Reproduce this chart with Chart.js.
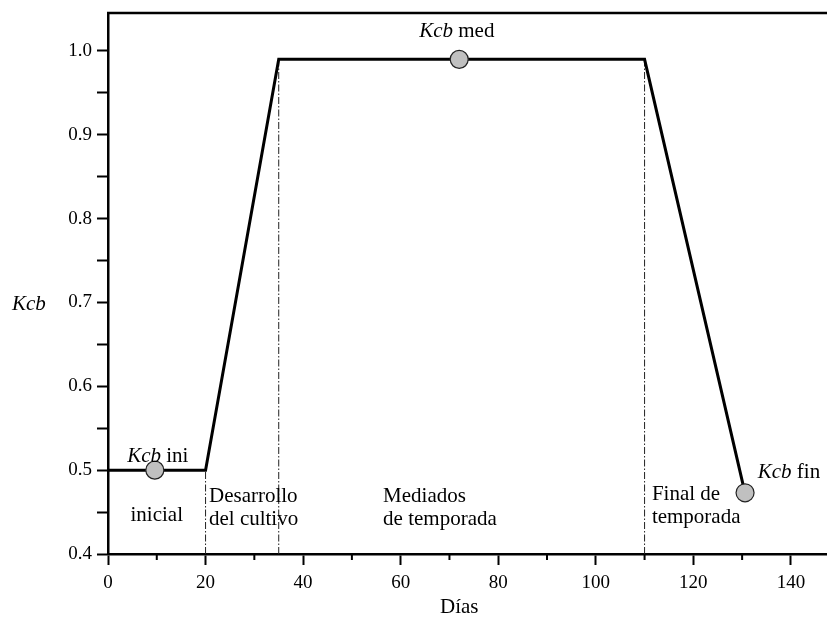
<!DOCTYPE html>
<html>
<head>
<meta charset="utf-8">
<script src="https://cdn.jsdelivr.net/npm/chart.js@4.4.1/dist/chart.umd.min.js"></script>
<style>
 html, body { margin: 0; padding: 0; background: #fff; }
 canvas { display: block; }
</style>
</head>
<body>
<canvas id="kcbChart" width="827" height="617"></canvas>
<script>
// Kcb curve vertices (days, Kcb)
var curveDays = [0, 20, 35, 110, 130.5];
var curveKcb = [0.5, 0.5, 0.99, 0.99, 0.475];
// marked Kcb values
var markDays = [9.6, 72, 130.6];
var markKcb = [0.5, 0.99, 0.473];
// stage boundaries (dash-dot lines) and where they stop
var boundDays = [20, 35, 110];
var boundTop = [0.5, 0.99, 0.99];
var xTickLabels = [0, 20, 40, 60, 80, 100, 120, 140];
var yTickLabels = [0.4, 0.5, 0.6, 0.7, 0.8, 0.9, 1.0];

var serif = '"Liberation Serif", "DejaVu Serif", serif';
var FS = 21;

// text notes: [text, italic] parts per line, anchored at (day, Kcb) baseline
var notes = [
 { lines: [[['Kcb', 1], [' ini', 0]]], x: 10.2, y: 0.5097, align: 'center' },
 { lines: [[['inicial', 0]]], x: 10.0, y: 0.4394, align: 'center' },
 { lines: [[['Desarrollo', 0]], [['del cultivo', 0]]], x: 20.7, y: 0.462, align: 'left' },
 { lines: [[['Mediados', 0]], [['de temporada', 0]]], x: 56.4, y: 0.462, align: 'left' },
 { lines: [[['Final de', 0]], [['temporada', 0]]], x: 111.5, y: 0.4644, align: 'left' },
 { lines: [[['Kcb', 1], [' fin', 0]]], x: 133.2, y: 0.4907, align: 'left' },
 { lines: [[['Kcb', 1], [' med', 0]]], x: 71.5, y: 1.0167, align: 'center' }
];

function pts(xs, ys) {
 var out = [];
 for (var i = 0; i < xs.length; i++) out.push({ x: xs[i], y: ys[i] });
 return out;
}

function drawParts(ctx, parts, x, y, align) {
 var w = 0;
 parts.forEach(function (p) {
 ctx.font = (p[1] ? 'italic ' : '') + FS + 'px ' + serif;
 w += ctx.measureText(p[0]).width;
 });
 var cx = align === 'center' ? x - w / 2 : x;
 parts.forEach(function (p) {
 ctx.font = (p[1] ? 'italic ' : '') + FS + 'px ' + serif;
 ctx.fillText(p[0], cx, y);
 cx += ctx.measureText(p[0]).width;
 });
}

// drop the label overhang padding chart.js adds, so the plot box is exact
function noPad(s) {
 s.paddingTop = 0; s.paddingBottom = 0; s.paddingLeft = 0; s.paddingRight = 0;
}

var extras = {
 id: 'extras',
 afterDraw: function (chart) {
 var ctx = chart.ctx, xs = chart.scales.x, ys = chart.scales.y, a = chart.chartArea;
 ctx.save();
 // top frame line
 ctx.strokeStyle = '#000';
 ctx.lineWidth = 2.5;
 ctx.beginPath();
 ctx.moveTo(a.left - 1, a.top);
 ctx.lineTo(a.right, a.top);
 ctx.stroke();
 // short minor ticks on the x axis
 ctx.lineWidth = 2;
 xs.ticks.forEach(function (t) {
 if (t.value % 20 !== 0) {
 var px = xs.getPixelForValue(t.value);
 ctx.beginPath();
 ctx.moveTo(px, a.bottom);
 ctx.lineTo(px, a.bottom + 6);
 ctx.stroke();
 }
 });
 ctx.fillStyle = '#000';
 ctx.textBaseline = 'alphabetic';
 ctx.textAlign = 'left';
 notes.forEach(function (n) {
 var bx = xs.getPixelForValue(n.x), by = ys.getPixelForValue(n.y);
 n.lines.forEach(function (ln, i) {
 drawParts(ctx, ln, bx, by + i * 23, n.align);
 });
 });
 // axis titles
 drawParts(ctx, [['Kcb', 1]], 12, ys.getPixelForValue(0.691), 'left');
 drawParts(ctx, [['Días', 0]], xs.getPixelForValue(72), chart.height - 4, 'center');
 ctx.restore();
 }
};

var boundSets = boundDays.map(function (d, i) {
 return {
 data: pts([d, d], [0.4, boundTop[i]]),
 borderColor: '#222',
 borderWidth: 1,
 borderDash: [7, 2, 1.5, 2],
 pointRadius: 0,
 showLine: true,
 order: 3
 };
});

new Chart(document.getElementById('kcbChart'), {
 type: 'scatter',
 data: {
 datasets: [
 {
 data: pts(markDays, markKcb),
 pointRadius: 9,
 pointBackgroundColor: '#c0c0c0',
 pointBorderColor: '#222',
 pointBorderWidth: 1.2,
 showLine: false,
 order: 1
 },
 {
 data: pts(curveDays, curveKcb),
 borderColor: '#000',
 borderWidth: 3,
 pointRadius: 0,
 showLine: true,
 order: 2
 }
 ].concat(boundSets)
 },
 options: {
 responsive: false,
 animation: false,
 devicePixelRatio: 1,
 layout: { autoPadding: false, padding: { top: 13, right: 0, left: 0, bottom: 0 } },
 plugins: { legend: { display: false }, tooltip: { enabled: false } },
 scales: {
 x: {
 type: 'linear',
 min: 0,
 max: 147.4,
 afterFit: function (s) { s.height = 63; noPad(s); },
 border: { color: '#000', width: 2.5 },
 grid: {
 drawOnChartArea: false,
 tickLength: 11,
 tickWidth: 2,
 tickColor: function (c) {
 return c.tick && c.tick.value % 20 === 0 ? '#000' : 'rgba(0,0,0,0)';
 }
 },
 ticks: {
 stepSize: 10,
 includeBounds: false,
 maxRotation: 0,
 autoSkip: false,
 padding: 7,
 color: '#000',
 font: { family: serif, size: 19 },
 callback: function (v) {
 return xTickLabels.indexOf(v) >= 0 ? String(v) : '';
 }
 }
 },
 y: {
 min: 0.4,
 max: 1.0453,
 afterFit: function (s) { s.width = 108; noPad(s); },
 border: { color: '#000', width: 2.5 },
 grid: { drawOnChartArea: false, tickLength: 11, tickWidth: 2, tickColor: '#000' },
 ticks: {
 stepSize: 0.05,
 includeBounds: false,
 autoSkip: false,
 padding: 5,
 color: '#000',
 font: { family: serif, size: 19 },
 callback: function (v) {
 var r = Math.round(v * 10) / 10;
 return Math.abs(v - r) < 1e-6 && yTickLabels.indexOf(r) >= 0 ? r.toFixed(1) : '';
 }
 }
 }
 }
 },
 plugins: [extras]
});
</script>
</body>
</html>
